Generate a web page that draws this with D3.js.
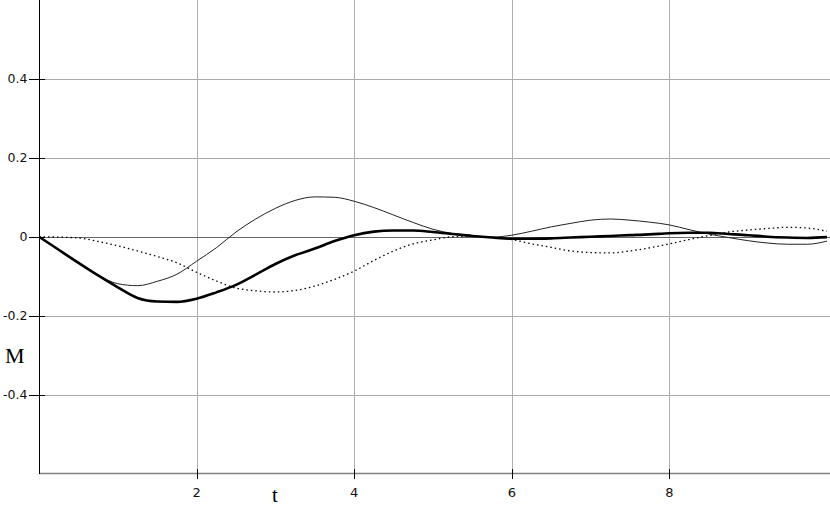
<!DOCTYPE html>
<html><head><meta charset="utf-8">
<script src="https://cdn.jsdelivr.net/npm/d3@7"></script>
<style>body{margin:0;background:#fff}svg{display:block}</style>
</head><body>
<script>
const tValues = d3.range(0, 10.001, 0.25);
const seriesThick = [0,-0.033,-0.066,-0.098,-0.128,-0.155,-0.164,-0.165,-0.157,-0.141,-0.122,-0.096,-0.069,-0.047,-0.03,-0.011,0.004,0.013,0.016,0.016,0.012,0.007,0.002,-0.002,-0.005,-0.005,-0.004,-0.002,0.0,0.002,0.004,0.006,0.009,0.010,0.010,0.007,0.004,0.000,-0.002,-0.003,-0.001];
const seriesThin = [0,-0.033,-0.064,-0.097,-0.119,-0.124,-0.113,-0.095,-0.062,-0.028,0.012,0.045,0.072,0.092,0.101,0.100,0.090,0.074,0.055,0.036,0.019,0.008,0.002,-0.001,0.004,0.014,0.025,0.034,0.042,0.045,0.042,0.037,0.030,0.018,0.007,-0.002,-0.010,-0.016,-0.019,-0.019,-0.011];
const seriesDotted = [0,-0.001,-0.003,-0.012,-0.023,-0.036,-0.050,-0.066,-0.090,-0.112,-0.130,-0.137,-0.140,-0.136,-0.125,-0.108,-0.087,-0.060,-0.036,-0.018,-0.008,0.0,0.001,-0.001,-0.007,-0.018,-0.027,-0.036,-0.040,-0.041,-0.036,-0.028,-0.018,-0.007,0.003,0.012,0.017,0.021,0.024,0.022,0.014];
const xTicks = [2,4,6,8];
const yTicks = [0.4,0.2,0,-0.2,-0.4];
const yTickLabels = ["0.4","0.2","0","-0.2","-0.4"];
const xLabel = "t", yLabel = "M";

const W = 830, H = 507;
const svg = d3.select("body").append("svg").attr("width", W).attr("height", H);
const x = d3.scaleLinear().domain([0,10]).range([39,827]);
const y = d3.scaleLinear().domain([-0.6,0.6]).range([473.5,0]);
const xEnd = 830;

// grid
svg.append("g").selectAll("line").data(yTicks.filter(d=>d!==0)).join("line")
  .attr("x1",39).attr("x2",xEnd).attr("y1",d=>Math.round(y(d))+0.5).attr("y2",d=>Math.round(y(d))+0.5)
  .attr("stroke","#aaa").attr("stroke-width",1);
svg.append("g").selectAll("line").data(xTicks).join("line")
  .attr("x1",d=>Math.round(x(d))+0.5).attr("x2",d=>Math.round(x(d))+0.5).attr("y1",0).attr("y2",473)
  .attr("stroke","#b0b0b0").attr("stroke-width",1);
// zero line
svg.append("line").attr("x1",39).attr("x2",xEnd).attr("y1",Math.round(y(0))+0.5).attr("y2",Math.round(y(0))+0.5)
  .attr("stroke","#666").attr("stroke-width",1.2);

// x axis
svg.append("line").attr("x1",39).attr("x2",xEnd).attr("y1",473.5).attr("y2",473.5).attr("stroke","#808080").attr("stroke-width",1.6);
svg.append("g").selectAll("line").data(xTicks).join("line")
  .attr("x1",d=>Math.round(x(d))+0.5).attr("x2",d=>Math.round(x(d))+0.5).attr("y1",469).attr("y2",479)
  .attr("stroke","#000").attr("stroke-width",1);
svg.append("g").selectAll("text").data(xTicks).join("text")
  .attr("x",d=>x(d)).attr("y",497).attr("text-anchor","middle")
  .attr("font-family","DejaVu Sans, sans-serif").attr("font-size",13).attr("fill","#111")
  .text(d=>d3.format("d")(d));

// y axis
svg.append("line").attr("x1",39.5).attr("x2",39.5).attr("y1",0).attr("y2",474).attr("stroke","#000").attr("stroke-width",1);
svg.append("g").selectAll("line").data(yTicks).join("line")
  .attr("x1",29).attr("x2",45).attr("y1",d=>Math.round(y(d))+0.5).attr("y2",d=>Math.round(y(d))+0.5)
  .attr("stroke","#000").attr("stroke-width",1);
svg.append("g").selectAll("text").data(yTicks).join("text")
  .attr("x",27.5).attr("y",d=>y(d)+4.5).attr("text-anchor","end")
  .attr("font-family","DejaVu Sans, sans-serif").attr("font-size",12.5).attr("fill","#111")
  .text((d,i)=>yTickLabels[i]);

// labels
svg.append("text").attr("x",5).attr("y",363).attr("font-family","Liberation Serif, Times New Roman, serif").attr("font-size",22).attr("fill","#000").text(yLabel);
svg.append("text").attr("x",272).attr("y",502).attr("font-family","Liberation Serif, Times New Roman, serif").attr("font-size",21).attr("fill","#000").text(xLabel);

// lines
const mk = arr => d3.line().x((d,i)=>x(tValues[i])).y(d=>y(d)).curve(d3.curveMonotoneX)(arr);
svg.append("path").attr("d",mk(seriesDotted)).attr("fill","none").attr("stroke","#000").attr("stroke-width",1.3).attr("stroke-dasharray","1.5,3");
svg.append("path").attr("d",mk(seriesThin)).attr("fill","none").attr("stroke","#222").attr("stroke-width",1);
svg.append("path").attr("d",mk(seriesThick)).attr("fill","none").attr("stroke","#000").attr("stroke-width",2.6);
</script>
</body></html>
